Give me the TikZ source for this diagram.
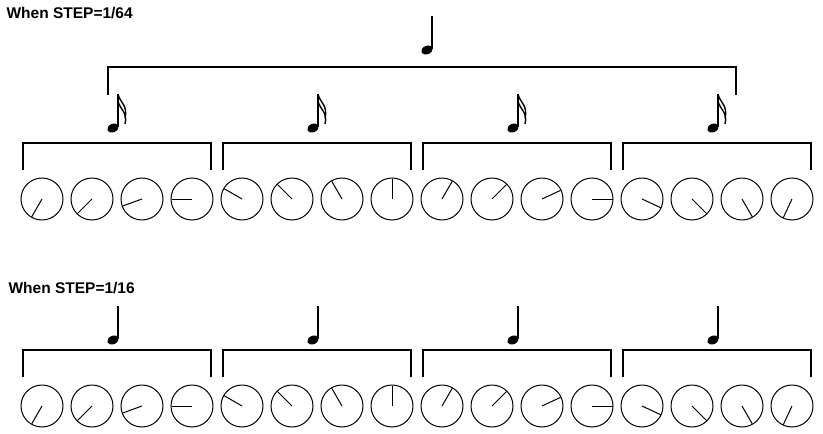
\documentclass[tikz,border=0pt]{standalone}
\usepackage{fontspec}
\setmainfont{Liberation Sans}
\usetikzlibrary{positioning, calc}
\tikzset{dial node/.style={circle, draw, minimum size=42pt, inner sep=0pt, line width=1pt},
  bracket/.style={line width=2.4pt},
  title node/.style={anchor=west, font=\bfseries\fontsize{15.5pt}{18pt}\selectfont},
  pics/quarter/.style={code={
    \fill[rotate=25] (0,0) ellipse (6pt and 4.2pt);
    \draw[line width=1.2pt] (5,-1.5) -- (5,-34);}},
  pics/sixteenth/.style={code={
    \pic {quarter};
    \draw[line width=1.4pt] (5,-34) .. controls (7,-25) and (15,-23) .. (12,-10);
    \draw[line width=1.4pt] (5,-27) .. controls (7,-18) and (15,-16) .. (12,-4);}},
}
\begin{document}
\begin{tikzpicture}[x=1pt, y=-1pt]
		\useasboundingbox (0,0) rectangle (823,434);
		% Titles
		\node[title node] (t1) at (3,13) {When STEP=1/64};
		\node[title node] (t2) at (5,288) {When STEP=1/16};
		% Top bracket and note
		\draw[bracket] (108,95) -- (108,67) -- (736,67) -- (736,95);
		\pic at (427,50) {quarter};
		% Dials
		\foreach \row/\y in {a/199, b/406} {
			\foreach \ang [count=\i from 0] in {240,225,200,180,150,135,120,90,60,45,25,0,-25,-45,-60,245} {
				\node[dial node] (\row\i) at ({42+50*\i},\y) {};
				\draw[line width=1pt] (\row\i.center) -- ++(\ang:20.5pt);
			}
		}
		% Group brackets and notes
		\foreach \k in {0,1,2,3} {
			\draw[bracket] ({23+200*\k},170) -- ({23+200*\k},143) -- ({211+200*\k},143) -- ({211+200*\k},170);
			\pic at ({113+200*\k},128) {sixteenth};
			\draw[bracket] ({23+200*\k},377) -- ({23+200*\k},350) -- ({211+200*\k},350) -- ({211+200*\k},377);
			\pic at ({113+200*\k},340) {quarter};
		}
	\end{tikzpicture}
\end{document}
